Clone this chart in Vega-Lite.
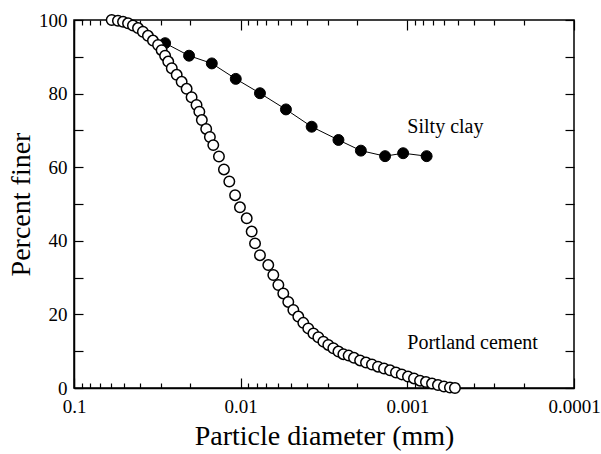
{
  "$schema": "https://vega.github.io/schema/vega-lite/v6.json",
  "width": 500,
  "height": 368,
  "autosize": "none",
  "padding": {"left": 74, "top": 20, "right": 27, "bottom": 66},
  "background": "white",
  "config": {
    "view": {"stroke": "black", "strokeWidth": 1.5},
    "font": "Liberation Serif",
    "axis": {"domainColor": "black", "domainWidth": 1.5, "tickColor": "black", "tickWidth": 1.2, "labelColor": "black", "titleColor": "black", "labelFont": "Liberation Serif", "titleFont": "Liberation Serif", "labelFontSize": 19, "titleFontSize": 28, "titleFontWeight": "normal", "grid": false, "labelOverlap": false, "labelFlush": false, "labelBound": false}
  },
  "datasets": {
    "pts": [
      {"series": "Silty clay", "d": 0.0284, "pct": 93.7},
      {"series": "Silty clay", "d": 0.0204, "pct": 90.3},
      {"series": "Silty clay", "d": 0.0149, "pct": 88.2},
      {"series": "Silty clay", "d": 0.0107, "pct": 84.0},
      {"series": "Silty clay", "d": 0.00766, "pct": 80.1},
      {"series": "Silty clay", "d": 0.00535, "pct": 75.7},
      {"series": "Silty clay", "d": 0.00375, "pct": 71.0},
      {"series": "Silty clay", "d": 0.00259, "pct": 67.4},
      {"series": "Silty clay", "d": 0.0019, "pct": 64.5},
      {"series": "Silty clay", "d": 0.00136, "pct": 63.0},
      {"series": "Silty clay", "d": 0.00106, "pct": 63.8},
      {"series": "Silty clay", "d": 0.000766, "pct": 63.0},
      {"series": "Portland cement", "d": 0.0594, "pct": 100.0},
      {"series": "Portland cement", "d": 0.0545, "pct": 99.8},
      {"series": "Portland cement", "d": 0.0508, "pct": 99.5},
      {"series": "Portland cement", "d": 0.0474, "pct": 99.1},
      {"series": "Portland cement", "d": 0.0443, "pct": 98.5},
      {"series": "Portland cement", "d": 0.0413, "pct": 97.8},
      {"series": "Portland cement", "d": 0.0386, "pct": 96.8},
      {"series": "Portland cement", "d": 0.036, "pct": 95.7},
      {"series": "Portland cement", "d": 0.0336, "pct": 94.4},
      {"series": "Portland cement", "d": 0.0313, "pct": 93.2},
      {"series": "Portland cement", "d": 0.0298, "pct": 91.8},
      {"series": "Portland cement", "d": 0.0284, "pct": 90.3},
      {"series": "Portland cement", "d": 0.0272, "pct": 88.7},
      {"series": "Portland cement", "d": 0.0259, "pct": 86.9},
      {"series": "Portland cement", "d": 0.0242, "pct": 85.1},
      {"series": "Portland cement", "d": 0.0226, "pct": 83.2},
      {"series": "Portland cement", "d": 0.0211, "pct": 81.3},
      {"series": "Portland cement", "d": 0.0197, "pct": 79.0},
      {"series": "Portland cement", "d": 0.0184, "pct": 76.9},
      {"series": "Portland cement", "d": 0.0177, "pct": 75.1},
      {"series": "Portland cement", "d": 0.0171, "pct": 72.8},
      {"series": "Portland cement", "d": 0.0161, "pct": 70.4},
      {"series": "Portland cement", "d": 0.0153, "pct": 68.2},
      {"series": "Portland cement", "d": 0.0146, "pct": 66.0},
      {"series": "Portland cement", "d": 0.0135, "pct": 62.9},
      {"series": "Portland cement", "d": 0.0126, "pct": 59.4},
      {"series": "Portland cement", "d": 0.0117, "pct": 56.1},
      {"series": "Portland cement", "d": 0.0108, "pct": 52.4},
      {"series": "Portland cement", "d": 0.0101, "pct": 49.1},
      {"series": "Portland cement", "d": 0.0092, "pct": 46.1},
      {"series": "Portland cement", "d": 0.00859, "pct": 42.5},
      {"series": "Portland cement", "d": 0.0082, "pct": 39.3},
      {"series": "Portland cement", "d": 0.00766, "pct": 36.1},
      {"series": "Portland cement", "d": 0.00683, "pct": 33.4},
      {"series": "Portland cement", "d": 0.00637, "pct": 30.7},
      {"series": "Portland cement", "d": 0.00594, "pct": 28.0},
      {"series": "Portland cement", "d": 0.00555, "pct": 25.7},
      {"series": "Portland cement", "d": 0.00518, "pct": 23.4},
      {"series": "Portland cement", "d": 0.00483, "pct": 21.2},
      {"series": "Portland cement", "d": 0.00451, "pct": 19.4},
      {"series": "Portland cement", "d": 0.00421, "pct": 17.7},
      {"series": "Portland cement", "d": 0.00393, "pct": 16.2},
      {"series": "Portland cement", "d": 0.00366, "pct": 14.8},
      {"series": "Portland cement", "d": 0.00342, "pct": 13.8},
      {"series": "Portland cement", "d": 0.00319, "pct": 12.6},
      {"series": "Portland cement", "d": 0.00298, "pct": 11.7},
      {"series": "Portland cement", "d": 0.00278, "pct": 10.8},
      {"series": "Portland cement", "d": 0.00259, "pct": 9.9},
      {"series": "Portland cement", "d": 0.00242, "pct": 9.2},
      {"series": "Portland cement", "d": 0.00225, "pct": 8.8},
      {"series": "Portland cement", "d": 0.00209, "pct": 8.2},
      {"series": "Portland cement", "d": 0.00192, "pct": 7.5},
      {"series": "Portland cement", "d": 0.00177, "pct": 6.9},
      {"series": "Portland cement", "d": 0.00163, "pct": 6.4},
      {"series": "Portland cement", "d": 0.0015, "pct": 5.8},
      {"series": "Portland cement", "d": 0.00138, "pct": 5.3},
      {"series": "Portland cement", "d": 0.00127, "pct": 4.8},
      {"series": "Portland cement", "d": 0.00117, "pct": 4.2},
      {"series": "Portland cement", "d": 0.00108, "pct": 3.7},
      {"series": "Portland cement", "d": 0.000991, "pct": 3.1},
      {"series": "Portland cement", "d": 0.000912, "pct": 2.6},
      {"series": "Portland cement", "d": 0.000839, "pct": 2.0},
      {"series": "Portland cement", "d": 0.000773, "pct": 1.6},
      {"series": "Portland cement", "d": 0.000711, "pct": 1.2},
      {"series": "Portland cement", "d": 0.000655, "pct": 0.8},
      {"series": "Portland cement", "d": 0.000603, "pct": 0.4},
      {"series": "Portland cement", "d": 0.000555, "pct": 0.15},
      {"series": "Portland cement", "d": 0.000518, "pct": 0.0}
    ],
    "labels": [
      {"label": "Silty clay", "d": 0.001, "pct": 70.9},
      {"label": "Portland cement", "d": 0.001, "pct": 12.2}
    ]
  },
  "resolve": {"scale": {"x": "shared", "y": "shared"}, "axis": {"x": "independent", "y": "independent"}},
  "layer": [
    {
      "data": {"name": "pts"},
      "transform": [{"filter": "datum.series == 'Silty clay'"}],
      "mark": {"type": "line", "color": "black", "strokeWidth": 1},
      "encoding": {
        "x": {"field": "d", "type": "quantitative",
          "scale": {"type": "log", "domain": [0.0001, 0.1], "reverse": true, "nice": false},
          "axis": {"orient": "bottom", "title": "Particle diameter (mm)", "titlePadding": 6, "ticks": false,
            "values": [0.1, 0.01, 0.001, 0.0001],
            "labelExpr": "datum.value == 0.1 ? '0.1' : datum.value == 0.01 ? '0.01' : datum.value == 0.001 ? '0.001' : '0.0001'",
            "labelPadding": 9}},
        "y": {"field": "pct", "type": "quantitative",
          "scale": {"domain": [0, 100], "nice": false},
          "axis": {"orient": "left", "title": "Percent finer", "titlePadding": 3, "ticks": false,
            "values": [0, 20, 40, 60, 80, 100],
            "labelPadding": 7}}
      }
    },
    {
      "data": {"name": "pts"},
      "transform": [{"filter": "datum.series == 'Silty clay'"}],
      "mark": {"type": "point", "shape": "circle", "filled": true, "fill": "black", "stroke": "black", "strokeWidth": 1, "size": 120, "opacity": 1},
      "encoding": {
        "x": {"field": "d", "type": "quantitative",
          "axis": {"orient": "top", "offset": -368, "title": null, "labels": false, "domain": false,
            "values": [0.1, 0.09, 0.08, 0.07, 0.06, 0.05, 0.04, 0.03, 0.02, 0.01, 0.009, 0.008, 0.007, 0.006, 0.005, 0.004, 0.003, 0.002, 0.001, 0.0009, 0.0008, 0.0007, 0.0006, 0.0005, 0.0004, 0.0003, 0.0002, 0.0001],
            "tickSize": {"condition": {"test": "datum.value == 0.1 || datum.value == 0.01 || datum.value == 0.001 || datum.value == 0.0001", "value": 10}, "value": 5}}},
        "y": {"field": "pct", "type": "quantitative",
          "axis": {"orient": "right", "offset": -500, "title": null, "labels": false, "domain": false,
            "values": [0, 10, 20, 30, 40, 50, 60, 70, 80, 90, 100], "tickSize": 9}}
      }
    },
    {
      "data": {"name": "pts"},
      "transform": [{"filter": "datum.series == 'Portland cement'"}],
      "mark": {"type": "point", "shape": "circle", "filled": true, "fill": "white", "stroke": "black", "strokeWidth": 1.5, "size": 110, "opacity": 1},
      "encoding": {
        "x": {"field": "d", "type": "quantitative",
          "axis": {"orient": "bottom", "offset": -368, "title": null, "labels": false, "domain": false,
            "values": [0.1, 0.09, 0.08, 0.07, 0.06, 0.05, 0.04, 0.03, 0.02, 0.01, 0.009, 0.008, 0.007, 0.006, 0.005, 0.004, 0.003, 0.002, 0.001, 0.0009, 0.0008, 0.0007, 0.0006, 0.0005, 0.0004, 0.0003, 0.0002, 0.0001],
            "tickSize": {"condition": {"test": "datum.value == 0.1 || datum.value == 0.01 || datum.value == 0.001 || datum.value == 0.0001", "value": 10}, "value": 5}}},
        "y": {"field": "pct", "type": "quantitative",
          "axis": {"orient": "left", "offset": -500, "title": null, "labels": false, "domain": false,
            "values": [0, 10, 20, 30, 40, 50, 60, 70, 80, 90, 100], "tickSize": 9}}
      }
    },
    {
      "data": {"name": "labels"},
      "mark": {"type": "text", "align": "left", "baseline": "middle", "font": "Liberation Serif", "fontSize": 20, "color": "black"},
      "encoding": {
        "x": {"field": "d", "type": "quantitative", "axis": null},
        "y": {"field": "pct", "type": "quantitative", "axis": null},
        "text": {"field": "label"}
      }
    }
  ]
}
